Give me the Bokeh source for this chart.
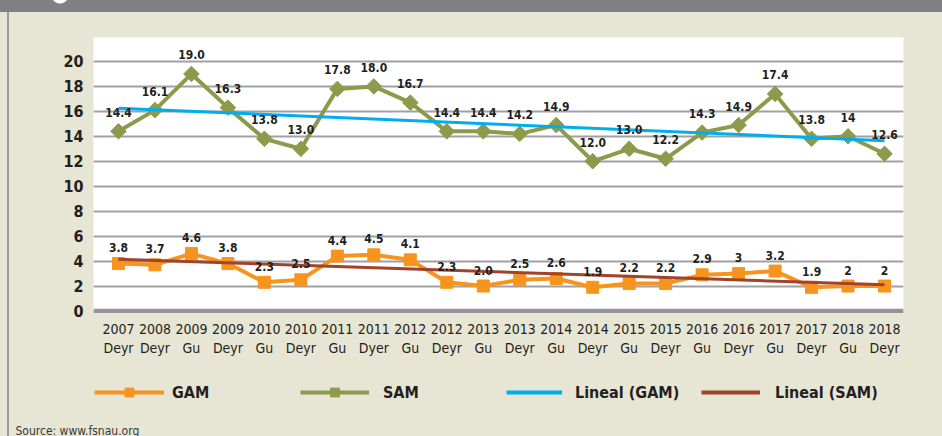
import math
from bokeh.plotting import figure
from bokeh.layouts import column
from bokeh.models import (Range1d, FixedTicker, ColumnDataSource, Span, Legend,
                          LegendItem, Label)
from bokeh.core.properties import value
from bokeh.embed import file_html
from bokeh.resources import INLINE

# ---------------- data ----------------
years = ["2007", "2008", "2009", "2009", "2010", "2010", "2011", "2011", "2012", "2012", "2013",
         "2013", "2014", "2014", "2015", "2015", "2016", "2016", "2017", "2017", "2018", "2018"]
seasons = ["Deyr", "Deyr", "Gu", "Deyr", "Gu", "Deyr", "Gu", "Dyer", "Gu", "Deyr", "Gu",
           "Deyr", "Gu", "Deyr", "Gu", "Deyr", "Gu", "Deyr", "Gu", "Deyr", "Gu", "Deyr"]
gam = [3.8, 3.7, 4.6, 3.8, 2.3, 2.5, 4.4, 4.5, 4.1, 2.3, 2.0,
       2.5, 2.6, 1.9, 2.2, 2.2, 2.9, 3, 3.2, 1.9, 2, 2]
gam_labels = ["3.8", "3.7", "4.6", "3.8", "2.3", "2.5", "4.4", "4.5", "4.1", "2.3", "2.0",
              "2.5", "2.6", "1.9", "2.2", "2.2", "2.9", "3", "3.2", "1.9", "2", "2"]
sam = [14.4, 16.1, 19.0, 16.3, 13.8, 13.0, 17.8, 18.0, 16.7, 14.4, 14.4,
       14.2, 14.9, 12.0, 13.0, 12.2, 14.3, 14.9, 17.4, 13.8, 14, 12.6]
sam_labels = ["14.4", "16.1", "19.0", "16.3", "13.8", "13.0", "17.8", "18.0", "16.7", "14.4", "14.4",
              "14.2", "14.9", "12.0", "13.0", "12.2", "14.3", "14.9", "17.4", "13.8", "14", "12.6"]
# trend lines (value at first and last period)
lineal_gam = [16.25, 13.65]
lineal_sam = [4.15, 2.1]
y_ticks = [0, 2, 4, 6, 8, 10, 12, 14, 16, 18, 20]
legend_labels = ["GAM", "SAM", "Lineal (GAM)", "Lineal (SAM)"]
source_text = "Source: www.fsnau.org"

# ---------------- style ----------------
FONT = "DejaVu Sans Condensed"
DARK = "#231F20"
BEIGE = "#E7E5D4"
ORANGE = "#F7941D"
GREEN = "#8E9A4B"
BLUE = "#00AEEF"
BROWN = "#A0432A"

n = len(years)
xs = list(range(n))
first_last = [xs[0], xs[-1]]

# ---------------- main chart ----------------
p = figure(width=942, height=360, output_backend="svg", toolbar_location=None,
           x_range=Range1d(-0.685, n - 1 + 0.52), y_range=Range1d(-0.2, 21.92),
           min_border_left=93, min_border_right=39, min_border_top=37, min_border_bottom=47,
           background_fill_color="white", border_fill_color=None,
           outline_line_color=None, frame_align=False)

p.xaxis.ticker = FixedTicker(ticks=xs)
p.xaxis.major_label_overrides = {i: f"{years[i]}\n{seasons[i]}" for i in xs}
p.yaxis.ticker = FixedTicker(ticks=y_ticks)
for ax in (p.xaxis[0], p.yaxis[0]):
    ax.axis_line_color = None
    ax.major_tick_line_color = None
    ax.minor_tick_line_color = None
    ax.major_tick_in = 0
    ax.major_tick_out = 0
    ax.major_label_text_font = FONT
    ax.major_label_text_color = DARK
p.xaxis.major_label_text_font_size = "14px"
p.xaxis.major_label_standoff = 7
p.yaxis.major_label_text_font_size = "16px"
p.yaxis.major_label_text_font_style = "bold"
p.yaxis.major_label_standoff = 10

p.xgrid.visible = False
p.ygrid.ticker = FixedTicker(ticks=y_ticks)
p.ygrid.grid_line_color = "#A0A0A5"
p.ygrid.grid_line_width = 2
p.add_layout(Span(location=0, dimension="width", line_color="#939398", line_width=4.5))

src_g = ColumnDataSource(dict(x=xs, y=gam, t=gam_labels))
src_s = ColumnDataSource(dict(x=xs, y=sam, t=sam_labels))

p.line("x", "y", source=src_g, line_color=ORANGE, line_width=4)
p.scatter("x", "y", source=src_g, marker="square", size=12, fill_color=ORANGE, line_color=ORANGE)
p.line("x", "y", source=src_s, line_color=GREEN, line_width=4)
p.scatter("x", "y", source=src_s, marker="square", size=11, angle=math.pi / 4,
          fill_color=GREEN, line_color=GREEN)
p.line(first_last, lineal_gam, line_color=BLUE, line_width=3)
p.line(first_last, lineal_sam, line_color=BROWN, line_width=3)

for src, off in ((src_g, -16), (src_s, -19)):
    p.text("x", "y", text="t", source=src, text_font=value(FONT), text_font_style="bold",
           text_font_size="12px", text_color=DARK, text_align="center",
           text_baseline="middle", y_offset=off)

# ---------------- legend strip ----------------
q = figure(width=942, height=76, output_backend="svg", toolbar_location=None,
           x_range=Range1d(0, 942), y_range=Range1d(0, 76),
           x_axis_location=None, y_axis_location=None,
           min_border=0, background_fill_color=None, border_fill_color=None,
           outline_line_color=None, frame_align=False)
q.grid.visible = False

def proxy():
    # legend-only renderers: one undefined point, nothing is drawn in the strip
    return ColumnDataSource(dict(x=[float("nan")], y=[float("nan")]))

lg_gl = q.line("x", "y", source=proxy(), line_color=ORANGE, line_width=4)
lg_gm = q.scatter("x", "y", source=proxy(), marker="square",
                  fill_color=ORANGE, line_color=ORANGE)
lg_sl = q.line("x", "y", source=proxy(), line_color=GREEN, line_width=4)
lg_sm = q.scatter("x", "y", source=proxy(), marker="square",
                  fill_color=GREEN, line_color=GREEN)
lg_t1 = q.line("x", "y", source=proxy(), line_color=BLUE, line_width=4)
lg_t2 = q.line("x", "y", source=proxy(), line_color=BROWN, line_width=4)

def add_legend(label, renderers, left, gw, standoff):
    leg = Legend(items=[LegendItem(label=label, renderers=renderers)],
                 location=(left, 33), orientation="horizontal",
                 glyph_width=gw, glyph_height=22, label_height=22, label_standoff=standoff,
                 padding=0, margin=0, spacing=0, background_fill_alpha=0,
                 border_line_color=None, label_text_font=FONT, label_text_font_style="bold",
                 label_text_font_size="16px", label_text_color=DARK)
    q.add_layout(leg, "center")

add_legend(legend_labels[0], [lg_gl, lg_gm], 94, 70, 8)
add_legend(legend_labels[1], [lg_sl, lg_sm], 300, 69, 14)
add_legend(legend_labels[2], [lg_t1], 506, 56, 13)
add_legend(legend_labels[3], [lg_t2], 701, 59, 15)

q.add_layout(Label(x=15, y=6, x_units="screen", y_units="screen",
                   text=source_text, text_font=FONT, text_font_size="12px",
                   text_color="#3A3A3A", text_baseline="middle"))

bg = ("radial-gradient(circle at 60px -5px, #FFFFFF 8px, transparent 9px), "
      "linear-gradient(#7F8085 0px, #7F8085 12px, transparent 12px), "
      "linear-gradient(to right, transparent 7px, #9A9A9C 7px, #9A9A9C 9px, transparent 9px), "
      + BEIGE)
layout = column(p, q, spacing=0, styles={"background": bg})

open("out.html", "w").write(file_html(layout, INLINE))
